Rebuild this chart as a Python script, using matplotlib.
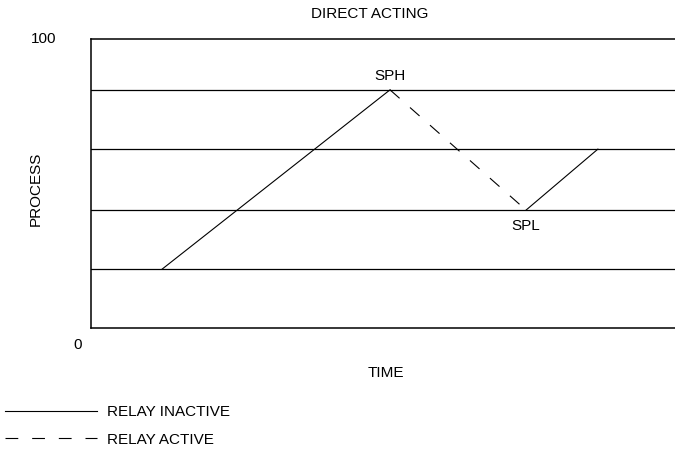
import matplotlib
matplotlib.use('Agg')
from matplotlib import pyplot as plt
from matplotlib.lines import Line2D

plt.rcParams['font.family'] = ['Liberation Sans Narrow', 'Liberation Sans', 'DejaVu Sans']

# levels of the horizontal reference lines (process %)
levels = [20.4, 40.8, 61.9, 82.4]

# process trace (time in arbitrary units 0..100)
rise_t = [12.2, 51.2]
rise_p = [20.4, 82.4]
fall_t = [51.2, 74.5]
fall_p = [82.4, 40.8]
rise2_t = [74.5, 86.8]
rise2_p = [40.8, 61.9]

legend_labels = ['RELAY INACTIVE', 'RELAY ACTIVE']

DASH = (11.5, 12.5)

fig = plt.figure(figsize=(6.75, 4.57), dpi=100)
ax = fig.add_axes([0.1348, 0.2823, 0.8652, 0.6324])
ax.set_xlim(0, 100)
ax.set_ylim(0, 100)

for lv in levels:
    ax.axhline(lv, color='black', lw=0.9)

ax.plot(rise_t, rise_p, color='black', lw=0.8)
ax.plot(fall_t, fall_p, color='black', lw=0.8, dashes=DASH)
ax.plot(rise2_t, rise2_p, color='black', lw=0.8)

ax.text(rise_t[1], rise_p[1] + 2.5, 'SPH', ha='center', va='bottom', fontsize=11)
ax.text(fall_t[1], fall_p[1] - 3, 'SPL', ha='center', va='top', fontsize=11)

ax.spines['right'].set_visible(False)
for s in ['left', 'top', 'bottom']:
    ax.spines[s].set_linewidth(1.1)
ax.set_xticks([])
ax.set_yticks([])

ax.text(-6, 100, '100', ha='right', va='center', fontsize=11)
ax.text(-1.5, -6, '0', ha='right', va='center', fontsize=11)
ax.text(47.8, 108.5, 'DIRECT ACTING', ha='center', va='center', fontsize=11)
ax.text(50.5, -15.5, 'TIME', ha='center', va='center', fontsize=11)
ax.text(-9.5, 48, 'PROCESS', ha='center', va='center', rotation=90, fontsize=11)

handles = [Line2D([], [], color='black', lw=0.8),
           Line2D([], [], color='black', lw=0.8, dashes=DASH)]
fig.legend(handles, legend_labels, loc='upper left', bbox_to_anchor=(0.0074, 0.114),
           frameon=False, fontsize=11, handlelength=6.0, handletextpad=0.65,
           labelspacing=0.9, borderpad=0, borderaxespad=0)

plt.savefig('out.png', dpi=100)
plt.close()
